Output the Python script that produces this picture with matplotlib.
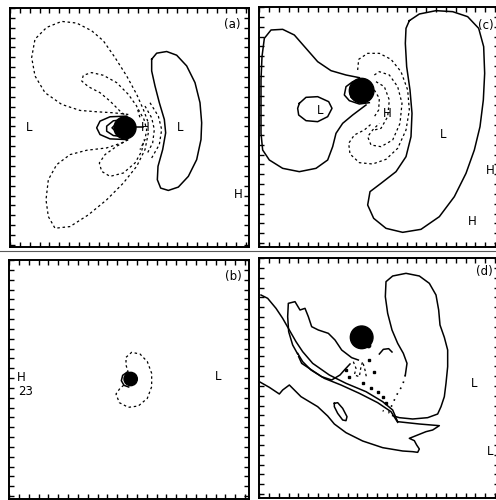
import matplotlib.pyplot as plt
from matplotlib.patches import Circle
from matplotlib.lines import Line2D
import numpy as np

# all traces are in panel grid units (0..~720 across each frame, y down)

# ---- panel (a)
a_frame = (30, 747, 27, 741)
a_kidney = [(455,180),(470,162),(500,157),(530,168),(560,200),(585,250),(600,310),(605,370),
            (603,420),(590,480),(565,530),(535,562),(505,572),(482,565),(472,540),(474,500),
            (488,450),(497,400),(493,360),(478,310),(465,260),(455,215),(455,180)]
a_loop1 = [(380,350),(330,352),(300,365),(290,385),(300,405),(330,418),(380,420)]
a_loop2 = [(375,360),(340,364),(320,380),(320,395),(340,408),(375,412)]
a_loop3 = [(370,370),(350,372),(336,385),(350,398),(370,400)]
a_hline = [(405,383),(428,383)]
a_out_up = [(385,345),(340,340),(290,337),(240,333),(185,315),(135,280),(105,230),(95,175),
            (105,120),(140,85),(185,67),(230,72),(275,95),(310,125),(345,175),(380,230),
            (410,285),(430,330),(445,370)]
a_out_lo = [(445,400),(435,450),(410,500),(370,550),(320,600),(265,645),(210,680),(165,685),
            (145,650),(138,600),(145,540),(170,495),(210,465),(260,452),(320,445),(365,430),(385,420)]
a_in_up = [(385,355),(360,335),(330,305),(300,280),(265,262),(245,245),(250,228),(275,220),
           (310,228),(350,250),(385,285),(410,320),(420,355)]
a_in_lo = [(385,420),(350,440),(315,465),(298,490),(305,515),(330,530),(370,520),(405,490),
           (425,455),(432,420)]
a_arc1 = [(415,330),(432,360),(440,390),(435,420),(420,450)]
a_arc2 = [(435,320),(455,355),(463,390),(458,430),(440,465)]
a_arc3 = [(450,310),(475,350),(485,390),(478,435),(455,475)]
a_blob = [(375,385,33)]
a_text = [(87,385,"L"),(540,383,"L"),(437,385,"H"),(715,585,"H"),(697,75,"(a)")]

# ---- panel (c)
c_frame = (39, 759, 21, 741)
c_left = [(340,233),(300,225),(255,212),(215,185),(180,145),(145,105),(110,88),(75,90),
          (55,115),(48,170),(45,240),(45,320),(45,400),(50,450),(70,480),(110,505),(160,515),
          (210,505),(245,480),(260,440),(270,400),(290,370),(320,345),(360,315)]
c_small = [(160,310),(180,292),(215,290),(248,305),(258,325),(245,350),(215,365),(180,362),
           (158,345),(155,325),(160,310)]
c_ring1 = [(350,240),(320,245),(300,260),(295,285),(310,302),(340,312),(370,308)]
c_ring2 = [(345,250),(325,256),(312,272),(315,292),(335,302)]
c_kidney = [(490,62),(520,42),(570,32),(620,35),(665,50),(698,85),(713,140),(716,220),
            (712,300),(702,380),(685,450),(660,520),(625,590),(580,650),(525,688),(470,697),
            (420,685),(383,655),(365,615),(372,575),(405,550),(450,515),(480,470),(495,410),
            (498,340),(492,270),(482,200),(478,130),(480,85),(490,62)]
c_dash1 = [(335,210),(338,178),(365,160),(400,160),(435,178),(465,215),(485,270),(490,330),
           (480,390),(455,445),(420,478),(380,492),(340,488),(312,462),(308,430),(325,405),
           (355,390),(378,370)]
c_dash2 = [(385,225),(400,215),(430,225),(455,260),(468,310),(462,370),(440,420),(405,440),
           (375,435),(365,410),(380,390),(400,370)]
c_dash3 = [(390,245),(415,260),(430,300),(425,350),(405,385),(385,390)]
c_dash4 = [(385,270),(400,295),(398,330),(385,350)]
c_blob = [(347,272,37)]
c_text = [(222,330,"L"),(425,340,"H"),(590,405,"L"),(734,510,"H"),(678,665,"H"),(720,75,"(c)")]

# ---- panel (b)
b_frame = (27, 747, 30, 747)
b_ring = [(382,366),(368,376),(364,392),(372,406),(386,411)]
b_dash = [(385,368),(378,345),(378,322),(395,307),(420,312),(442,335),(455,370),(455,410),
          (442,445),(415,468),(385,472),(358,458),(348,432),(360,415),(378,400)]
b_blob = [(392,387,20)]
b_text = [(63,383,"H"),(78,425,"23"),(655,380,"L"),(700,80,"(b)")]

# ---- panel (d)
d_frame = (39, 759, 24, 744)
d_kidney = [(478,375),(483,340),(472,310),(455,280),(438,240),(425,190),(418,140),(420,95),
            (440,78),(480,70),(520,78),(550,100),(570,135),(578,180),(582,225),(595,262),
            (605,300),(605,350),(600,400),(595,440),(585,470),(575,492),(545,503),(500,507),
            (460,503),(440,497)]
d_kidney_tail = [(478,375),(470,405),(452,435),(438,465),(428,488),(410,482)]
d_tongue = [(45,135),(65,145),(90,175),(110,205),(130,240),(150,275),(170,305),(200,340),
            (250,375),(300,400),(360,425),(410,455),(440,480),(455,515),(520,522),(580,527),
            (560,540),(540,545),(515,555),(490,565),(505,572),(512,585),(520,597),(515,607),
            (500,605),(470,603),(410,593),(350,573),(300,548),(265,522),(245,498),(215,470),
            (190,455),(165,440),(150,425),(130,405),(110,420),(100,432),(70,412),(40,395)]
d_inner = [(155,310),(170,335),(195,360),(235,385),(285,405),(340,430),(395,458),(435,485),(455,517)]
d_jag = [(155,312),(140,285),(128,245),(125,200),(127,160),(147,155),(162,180),(177,175),
         (187,200),(197,230),(217,240),(247,250),(267,270),(287,300),(317,323),(337,330)]
d_jag_lo = [(158,320),(167,340),(197,360),(227,380),(257,390),(282,375),(297,358),(312,342)]
d_bits = [(322,335),(330,355),(325,375),(340,380),(345,350),(350,335),(357,360),(362,385)]
d_comma = [(400,312),(412,298),(428,296),(438,306)]
d_dots = [(300,360),(310,380),(350,400),(375,415),(395,425),(410,440),(420,460),(385,365),(370,330)]
d_ellipse = [(265,460),(275,458),(290,475),(303,500),(300,512),(290,510),(275,490),(265,470),(265,460)]
d_blob = [(347,262,34),(368,287,6)]
d_text = [(683,400,"L"),(732,605,"L"),(716,65,"(d)")]


fig = plt.figure(figsize=(4.96, 5.0), dpi=100)


def line(ax, pts, style="-", lw=1.1):
    p = np.array(pts, dtype=float)
    if style == "--":
        ax.plot(p[:, 0], p[:, 1], color="black", lw=0.9, linestyle=(0, (2.0, 2.2)))
    elif style == ":":
        ax.plot(p[:, 0], p[:, 1], color="black", lw=1.2, linestyle=(0, (1.0, 3.0)))
    else:
        ax.plot(p[:, 0], p[:, 1], color="black", lw=lw)


def panel(rect, frame, solids, dashes, blobs, texts):
    ax = fig.add_axes(rect)
    x0, x1, y0, y1 = frame
    ax.set_xlim(x0, x1)
    ax.set_ylim(y1, y0)
    for s in solids:
        line(ax, s)
    for d in dashes:
        line(ax, d, "--")
    for cx, cy, r in blobs:
        ax.add_patch(Circle((cx, cy), r, color="black"))
    for tx, ty, t in texts:
        ax.text(tx, ty, t, fontsize=8.5, ha="center", va="center", family="DejaVu Sans")
    ax.set_xticks(np.arange(x0, x1, 29.5))
    ax.set_yticks(np.arange(y0, y1, 29.5))
    ax.tick_params(direction="in", length=3.5, width=1.0, top=True, right=True,
                   labelbottom=False, labelleft=False)
    for sp in ax.spines.values():
        sp.set_linewidth(1.4)
    return ax


panel([10/496, 253/500, 239/496, 239/500], a_frame,
      [a_kidney, a_loop1, a_loop2, a_loop3, a_hline],
      [a_out_up, a_out_lo, a_in_up, a_in_lo, a_arc1, a_arc2, a_arc3], a_blob, a_text)
panel([259/496, 253/500, 240/496, 240/500], c_frame,
      [c_left, c_small, c_ring1, c_ring2, c_kidney],
      [c_dash1, c_dash2, c_dash3, c_dash4], c_blob, c_text)
panel([9/496, 1/500, 240/496, 239/500], b_frame, [b_ring], [b_dash], b_blob, b_text)
axd = panel([259/496, 2/500, 240/496, 240/500], d_frame,
            [d_kidney, d_tongue, d_inner, d_jag, d_jag_lo, d_ellipse, d_comma],
            [d_bits], d_blob, d_text)
line(axd, d_kidney_tail, ":")
dp = np.array(d_dots, dtype=float)
axd.plot(dp[:, 0], dp[:, 1], "s", color="black", ms=1.6)

fig.add_artist(Line2D([0.0, 1.0], [0.499, 0.499], color="0.35", lw=0.8))

fig.savefig("out.png", dpi=100)
